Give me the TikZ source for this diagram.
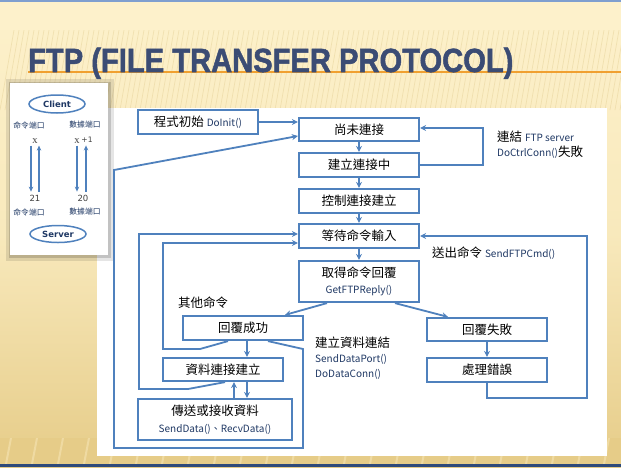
\documentclass[tikz,border=0pt]{standalone}
\usepackage{fontspec}
\usetikzlibrary{arrows.meta,calc,shapes.geometric}
\setmainfont{DejaVu Sans}
\newfontfamily\cjk{Noto Sans CJK TC}
\newfontfamily\titlefont{Liberation Sans}[BoldFeatures={FakeBold=1.6}]
\newfontfamily\seriffont{Liberation Serif}
\definecolor{boxblue}{HTML}{4F81BD}
\definecolor{navy}{HTML}{1F3864}
\definecolor{titleblue}{HTML}{3B4C74}
\definecolor{creamtop}{HTML}{FDF1CB}
\definecolor{creammid}{HTML}{F8E9BC}
\definecolor{tan}{HTML}{E6CC88}
\definecolor{stripe}{HTML}{E9D6A0}
\definecolor{orangeline}{HTML}{F0A030}
\definecolor{topline}{HTML}{7F9FCF}
\definecolor{botline}{HTML}{2F4A7A}
\newcommand{\fnt}[1]{{\color{navy}\fontsize{10}{12}\selectfont #1}}
\newcommand{\ttl}{\scalebox{0.87}[1]{\titlefont\bfseries\fontsize{33.5}{34}\selectfont FTP (FILE TRANSFER PROTOCOL)}}
\begin{document}
\begin{tikzpicture}[x=1pt,y=-1pt,
  box/.style={draw=boxblue,line width=2.2pt,fill=white,minimum width=120pt,minimum height=24pt,inner sep=0pt,align=center,font=\cjk\fontsize{12.5}{15}\selectfont},
  ln/.style={draw=boxblue,line width=1.8pt},
  arr/.style={ln,-{Stealth[length=6pt,width=6pt]}},
  thinarr/.style={draw=boxblue,line width=1.3pt,-{Stealth[length=5pt,width=4.5pt]}},
  lbl/.style={anchor=west,inner sep=0pt,font=\cjk\fontsize{12.5}{15}\selectfont},
  small/.style={inner sep=0pt,font=\cjk\fontsize{7.8}{9}\selectfont,text=navy},
  num/.style={inner sep=0pt,font=\fontsize{8.5}{9}\selectfont,text=black!75},
  oval/.style={ellipse,draw=boxblue,line width=1.5pt,fill=white,minimum width=56pt,minimum height=18pt,inner sep=0pt,font=\bfseries\fontsize{8.5}{10}\selectfont,text=navy}
]
\useasboundingbox (0,0) rectangle (621,467);
% background
\shade[top color=creamtop,bottom color=tan,middle color=creammid] (0,0) rectangle (621,467);
\fill[creamtop] (0,0) rectangle (621,30);
\begin{scope}
  \clip (0,30) rectangle (621,467);
  \foreach \i in {0,5,...,660} {
    \draw[stripe,line width=0.7pt,opacity=0.6] (\i,110) -- (\i+14,30);
  }
\end{scope}
\fill[topline] (0,0) rectangle (621,1.5);
\fill[tan] (0,438) rectangle (621,464);
\begin{scope}
  \clip (0,438) rectangle (621,464);
  \foreach \i in {-20,6,...,640} {
    \draw[creammid,line width=2pt,opacity=0.5] (\i,464) -- (\i+5,438);
  }
\end{scope}
\fill[botline] (0,464) rectangle (621,467);
% title
\draw[orangeline,line width=1.5pt] (28,72) -- (621,72);
\node[anchor=base west,inner sep=0pt,text=titleblue] (title) at (28,72) {\ttl};
% main panel
\fill[white] (97,108) rectangle (607,456);
% left panel
\fill[black,opacity=0.10] (6,79) rectangle (114,261);
\fill[black,opacity=0.15] (9,82) rectangle (111,258);
\fill[white] (10,83) rectangle (108,255);
\node[oval] (client) at (57,104) {Client};
\node[small] (cmdC) at (29,125) {命令端口};
\node[small] (dataC) at (85,125) {數據端口};
\node[inner sep=0pt,font=\seriffont\fontsize{10.5}{10}\selectfont,text=black!75] (xl) at (35,141) {x};
\node[inner sep=0pt,font=\seriffont\fontsize{10.5}{10}\selectfont,text=black!75] (xr) at (77,141) {x};
\node[inner sep=0pt,font=\fontsize{7.5}{8}\selectfont,text=black!75] (plus) at (87,139.5) {+1};
\node[num] (n21) at (35,198) {21};
\node[num] (n20) at (83,198) {20};
\node[small] (cmdS) at (29,212) {命令端口};
\node[small] (dataS) at (85,212) {數據端口};
\node[oval,minimum height=17pt] (server) at (58,234) {Server};
\draw[thinarr] ($(xl.south)+(-4,2)$) -- ($(n21.north)+(-4,-3)$);
\draw[thinarr] ($(n21.north)+(4,-3)$) -- ($(xl.south)+(4,2)$);
\draw[thinarr] ($(xr.south)+(0,2)$) -- ($(n20.north)+(-6,-3)$);
\draw[thinarr] ($(n20.north)+(3,-3)$) -- ($(plus.south)+(-1,3)$);
% flow boxes
\node[box] (init) at (198,122) {程式初始 \fnt{DoInit()}};
\node[box,minimum height=23pt] (b1) at (359,129.5) {尚未連接};
\node[box] (b2) at (359,165) {建立連接中};
\node[box] (b3) at (359,201) {控制連接建立};
\node[box] (b4) at (359,236) {等待命令輸入};
\node[box,minimum height=41pt] (b5) at (359,281.5) {取得命令回覆\\[1pt]\fnt{GetFTPReply()}};
\node[box] (ok) at (243,328) {回覆成功};
\node[box,minimum height=23pt] (fail) at (487,329.5) {回覆失敗};
\node[box] (err) at (487,370) {處理錯誤};
\node[box,minimum height=23pt] (dc) at (223,369.5) {資料連接建立};
\node[box,minimum width=154pt,minimum height=41pt] (tx) at (215,419.5) {傳送或接收資料\\[2pt]\fnt{SendData()、RecvData()}};
% labels
\node[lbl] (l1) at (497,137) {連結 \fnt{FTP server}};
\node[lbl] (l2) at (497,152) {\fnt{DoCtrlConn()}失敗};
\node[lbl] (l3) at (432,253) {送出命令 \fnt{SendFTPCmd()}};
\node[lbl] (l4) at (178,303) {其他命令};
\node[lbl] (l5) at (315,343) {建立資料連結};
\node[lbl] (l6) at (315,359) {\fnt{SendDataPort()}};
\node[lbl] (l7) at (315,374) {\fnt{DoDataConn()}};
% connectors
\draw[arr] (init.east) -- (b1.west |- init.east);
\draw[arr] (b1.south) -- (b2.north);
\draw[arr] (b2.south) -- (b3.north);
\draw[arr] (b3.south) -- (b4.north);
\draw[arr] (b4.south) -- (b5.north);
\draw[arr] (b2.east) -- (483,165) |- ($(b1.east)+(0,-1.5)$);
\draw[arr] ($(b5.south)+(-32,0)$) -- ($(ok.north)+(42,0)$);
\draw[arr] ($(b5.south)+(36,0)$) -- ($(fail.north)+(-39,0)$);
\draw[arr] (fail.south) -- (err.north);
\draw[arr] (err.south) |- (587,398) |- (b4.east);
\draw[arr] ($(ok.south)+(4,0)$) -- ($(dc.north)+(24,0)$);
\draw[arr] ($(tx.north)+(19,0)$) -- ($(dc.south)+(11,0)$);
\draw[arr] ($(dc.south)+(24,0)$) -- ($(tx.north)+(32,0)$);
\draw[arr] ($(ok.south)+(-15,0)$) -- (200,349) -- (163,349) -- (163,243) -- ($(b4.west)+(0,7)$);
\draw[arr] ($(dc.south)+(2,0)$) -- (188,389) -- (139,389) -- (139,234) -- ($(b4.west)+(0,-2)$);
\draw[arr] ($(ok.south)+(25,0)$) -- (303,349) -- (303,448) -- (114,448) -- (114,170) -- ($(b1.west)+(0,6.5)$);
\end{tikzpicture}
\end{document}
